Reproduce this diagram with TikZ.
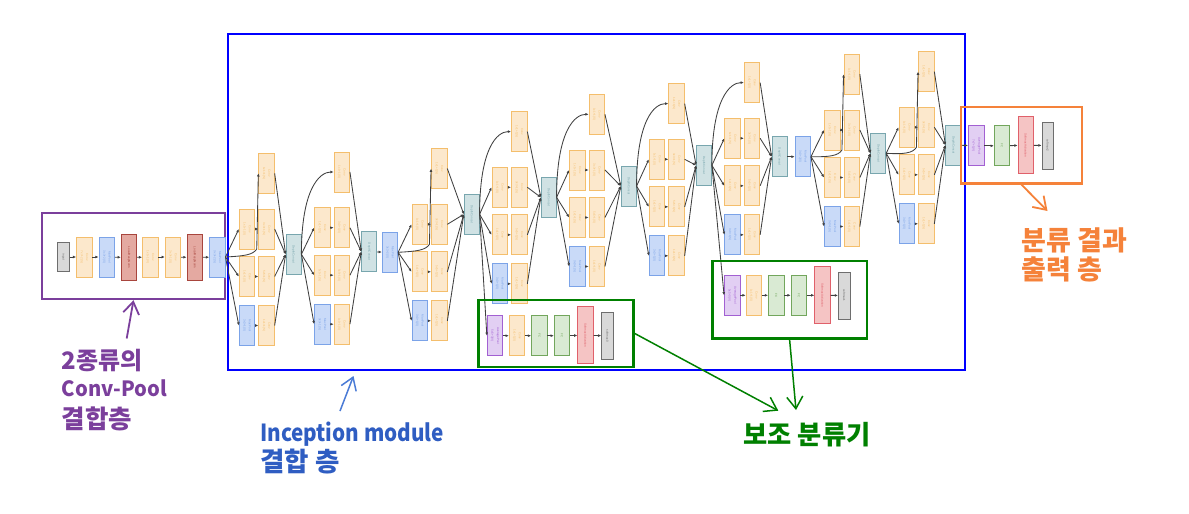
\documentclass[tikz,border=0pt]{standalone}
\usepackage{fontspec}
\usepackage{graphicx}
\newfontfamily\kr{Noto Sans CJK KR}
\newfontfamily\tinyf{Liberation Sans}
\usetikzlibrary{arrows.meta,calc}
\definecolor{convF}{HTML}{FCE8CC}\definecolor{convD}{HTML}{F4BE6C}
\definecolor{poolF}{HTML}{C9DAF8}\definecolor{poolD}{HTML}{7BA3E8}
\definecolor{lrnF}{HTML}{E4A9A1}\definecolor{lrnD}{HTML}{A8453D}
\definecolor{saF}{HTML}{F5C4C4}\definecolor{saD}{HTML}{E0606A}
\definecolor{gF}{HTML}{D9D9D9}\definecolor{gD}{HTML}{6E6E6E}
\definecolor{dcF}{HTML}{D0E2E4}\definecolor{dcD}{HTML}{78A6AE}
\definecolor{fcF}{HTML}{D9EAD3}\definecolor{fcD}{HTML}{72A65C}
\definecolor{avF}{HTML}{E2CFF3}\definecolor{avD}{HTML}{A260D2}
\definecolor{edgeC}{HTML}{404040}
\definecolor{purp}{HTML}{7B3F9C}
\definecolor{bluebox}{HTML}{0000FF}
\definecolor{bluetxt}{HTML}{2F5DC2}
\definecolor{bluearr}{HTML}{4A7BD6}
\definecolor{grn}{HTML}{008000}
\definecolor{orng}{HTML}{F5823A}
\newcommand{\lbl}[2]{\rotatebox{-90}{\shortstack{#1\\#2}}}
\newcommand{\lblone}[1]{\rotatebox{-90}{#1}}
\newcommand{\incmod}[6]{%
 \node[conv] (#1t) at (#2+19.5,#3-55.7) {\lbl{Conv}{1x1+1(S)}};
 \node[conv] (#1a1) at (#2,#3) {\lbl{Conv}{1x1+1(S)}};
 \node[conv] (#1a2) at (#2+19.5,#3) {\lbl{Conv}{3x3+1(S)}};
 \node[conv] (#1b1) at (#2,#3+47.5) {\lbl{Conv}{1x1+1(S)}};
 \node[conv] (#1b2) at (#2+19.5,#3+47.5) {\lbl{Conv}{5x5+1(S)}};
 \node[mpool] (#1c1) at (#2,#3+96.5) {\lbl{MaxPool}{3x3+1(S)}};
 \node[conv] (#1c2) at (#2+19.5,#3+96.5) {\lbl{Conv}{1x1+1(S)}};
 \draw[lnk] (#4.east) -- (#1a1.west);
 \draw[lnk] (#4.east) -- (#1b1.west);
 \draw[lnk] (#4.east) -- (#1c1.west);
 \draw[lnk] (#1a1) -- (#1a2);
 \draw[lnk] (#1b1) -- (#1b2);
 \draw[lnk] (#1c1) -- (#1c2);
 \ifnum#6=0
  \draw[lnk] (#4.east) .. controls ($(#4.east)!0.8!(#4.east|-#1t.west)$) and ($(#1t.west)+(-14,0)$) .. (#1t.west);
 \else
  \draw[lnk] (#4.east) .. controls (#2-3,#3+27) and (#2+6,#3+26) .. (#2+9.75,#3+20) -- (#1t.west);
 \fi
 \draw[lnk] (#1t.east) -- (#5.west);
 \draw[lnk] (#1a2.east) -- (#5.west);
 \draw[lnk] (#1b2.east) -- (#5.west);
 \draw[lnk] (#1c2.east) -- (#5.west);
}
\tikzset{
 blk/.style={draw, line width=0.8pt, minimum width=15.5pt, minimum height=40pt, inner sep=0pt, font=\tinyf\fontsize{3}{3.4}\selectfont},
 conv/.style={blk, fill=convF, draw=convD, text=convD},
 mpool/.style={blk, fill=poolF, draw=poolD, text=poolD},
 lrn/.style={blk, minimum height=46pt, fill=lrnF, draw=lrnD, text=lrnD},
 sact/.style={blk, minimum height=57pt, fill=saF, draw=saD, text=saD},
 smax/.style={blk, minimum width=11.6pt, minimum height=47pt, fill=gF, draw=gD, text=gD},
 inp/.style={blk, minimum width=11.6pt, minimum height=29pt, fill=gF, draw=gD, text=gD},
 dcat/.style={blk, minimum width=15pt, fill=dcF, draw=dcD, text=dcD},
 fcb/.style={blk, fill=fcF, draw=fcD, text=fcD},
 avg/.style={blk, fill=avF, draw=avD, text=avD},
 lnk/.style={draw=edgeC, line width=0.85pt, -{Latex[length=3.2pt,width=2.8pt]}},
 grp/.style={line width=2.4pt, inner sep=0pt},
 ann/.style={line width=1.8pt, -{Straight Barb[length=12pt,width=16pt]}},
 txt/.style={inner sep=0pt, anchor=base west, font=\kr\bfseries},
}
\begin{document}
\begin{tikzpicture}[x=1pt,y=-1pt]
\useasboundingbox[fill=white] (0,0) rectangle (1189,514);
% group boxes
\node[grp, draw=bluebox, minimum width=737pt, minimum height=336pt] (incbox) at (596.5,202) {};
\node[grp, draw=purp, minimum width=183pt, minimum height=86pt] (stembox) at (133.5,256) {};
% stem
\node[inp] (in) at (63.5,257) {\lblone{input}};
\node[conv] (s1) at (84.3,257) {\lbl{Conv}{7x7+2(S)}};
\node[mpool] (s2) at (106.7,257) {\lbl{MaxPool}{3x3+2(S)}};
\node[lrn] (s3) at (129,257.5) {\lblone{LocalRespNorm}};
\node[conv] (s4) at (150.3,257) {\lbl{Conv}{1x1+1(V)}};
\node[conv] (s5) at (173,257) {\lbl{Conv}{3x3+1(S)}};
\node[lrn] (s6) at (194.7,257.5) {\lblone{LocalRespNorm}};
\node[mpool] (s7) at (217.3,257) {\lbl{MaxPool}{3x3+2(S)}};
\draw[lnk] (in) -- (s1);
\draw[lnk] (s1) -- (s2);
\draw[lnk] (s2) -- (s3);
\draw[lnk] (s3) -- (s4);
\draw[lnk] (s4) -- (s5);
\draw[lnk] (s5) -- (s6);
\draw[lnk] (s6) -- (s7);
% concat / pool nodes
\node[dcat] (dc3a) at (293.5,254.3) {\lblone{DepthConcat}};
\node[dcat] (dc3b) at (369.2,251.7) {\lblone{DepthConcat}};
\node[mpool] (mp3) at (390,252.3) {\lbl{MaxPool}{3x3+2(S)}};
\node[dcat] (dc4a) at (471.7,214.3) {\lblone{DepthConcat}};
\node[dcat] (dc4b) at (548.7,197.3) {\lblone{DepthConcat}};
\node[dcat] (dc4c) at (628.7,186) {\lblone{DepthConcat}};
\node[dcat] (dc4d) at (704,165.3) {\lblone{DepthConcat}};
\node[dcat] (dc4e) at (779.5,156.7) {\lblone{DepthConcat}};
\node[mpool] (mp4) at (802.8,156.7) {\lbl{MaxPool}{3x3+2(S)}};
\node[dcat] (dc5a) at (878.3,153.3) {\lblone{DepthConcat}};
\node[dcat] (dc5b) at (953.3,145) {\lblone{DepthConcat}};
\draw[lnk] (dc3b) -- (mp3);
\draw[lnk] (dc4e) -- (mp4);
% inception modules
\incmod{m3a}{247}{229}{s7}{dc3a}{1}
\incmod{m3b}{322.3}{227.7}{dc3a}{dc3b}{0}
\incmod{m4a}{419.7}{224.3}{mp3}{dc4a}{1}
\incmod{m4b}{499.7}{187.3}{dc4a}{dc4b}{0}
\incmod{m4c}{577.3}{170}{dc4b}{dc4c}{0}
\incmod{m4d}{657}{159.3}{dc4c}{dc4d}{0}
\incmod{m4e}{732.5}{138.3}{dc4d}{dc4e}{0}
\incmod{m5a}{832.2}{130}{mp4}{dc5a}{1}
\incmod{m5b}{906.7}{127.3}{dc5a}{dc5b}{1}
% auxiliary classifier 1
\node[avg] (x1) at (495,335.7) {\lbl{AveragePool}{5x5+3(V)}};
\node[conv] (x2) at (517,335.7) {\lbl{Conv}{1x1+1(S)}};
\node[fcb] (x3) at (539.3,335.7) {\lblone{FC}};
\node[fcb] (x4) at (562,335.7) {\lblone{FC}};
\node[sact] (x5) at (585.5,335.3) {\lblone{SoftmaxActivation}};
\node[smax] (x6) at (607.5,335.8) {\lblone{softmax0}};
\draw[lnk] (dc4a.east) -- (x1.west);
\draw[lnk] (x1) -- (x2);
\draw[lnk] (x2) -- (x3);
\draw[lnk] (x3) -- (x4);
\draw[lnk] (x4) -- (x5);
\draw[lnk] (x5) -- (x6);
% auxiliary classifier 2
\node[avg] (y1) at (732.2,295.3) {\lbl{AveragePool}{5x5+3(V)}};
\node[conv] (y2) at (753.8,295.3) {\lbl{Conv}{1x1+1(S)}};
\node[fcb] (y3) at (776.2,295.3) {\lblone{FC}};
\node[fcb] (y4) at (798.8,295.3) {\lblone{FC}};
\node[sact] (y5) at (822.5,295.3) {\lblone{SoftmaxActivation}};
\node[smax] (y6) at (844.2,295.5) {\lblone{softmax1}};
\draw[lnk] (dc4d.east) -- (y1.west);
\draw[lnk] (y1) -- (y2);
\draw[lnk] (y2) -- (y3);
\draw[lnk] (y3) -- (y4);
\draw[lnk] (y4) -- (y5);
\draw[lnk] (y5) -- (y6);
% output
\node[avg] (z1) at (976.2,145.8) {\lbl{AveragePool}{7x7+1(V)}};
\node[fcb] (z2) at (1002,145.8) {\lblone{FC}};
\node[sact] (z3) at (1025.8,145.3) {\lblone{SoftmaxActivation}};
\node[smax] (z4) at (1047.8,145.5) {\lblone{softmax2}};
\draw[lnk] (dc5b) -- (z1);
\draw[lnk] (z1) -- (z2);
\draw[lnk] (z2) -- (z3);
\draw[lnk] (z3) -- (z4);
% highlight boxes
\node[grp, draw=grn, minimum width=155pt, minimum height=66.7pt] (aux1box) at (555.8,333.35) {};
\node[grp, draw=grn, minimum width=154.2pt, minimum height=77.3pt] (aux2box) at (789.6,299.65) {};
\node[grp, draw=orng, minimum width=121.3pt, minimum height=76.6pt] (outbox) at (1021.35,145) {};
% annotation arrows
\coordinate (pa) at (126.7,338.5);
\draw[ann, draw=purp] (pa) -- (stembox.south);
\coordinate (ba0) at (340,411);
\coordinate (ba1) at (353.5,376);
\draw[ann, draw=bluearr, line width=1.5pt] (ba0) -- (ba1);
\coordinate (ga1) at (778.3,410.7);
\coordinate (ga2) at (796,410);
\draw[ann, draw=grn, line width=1.5pt] (aux1box.east) -- (ga1);
\draw[ann, draw=grn, line width=1.5pt] (aux2box.south) -- (ga2);
\coordinate (oa) at (1047.5,211);
\draw[ann, draw=orng] (outbox.south) -- (oa);
% texts
\node[txt, text=purp, font=\kr\bfseries\fontsize{24}{28}\selectfont] (p1) at (61.7,369) {2종류의};
\node[txt, text=purp, font=\kr\bfseries\fontsize{21}{25}\selectfont] (p2) at (61.7,396.7) {\scalebox{0.96}[1]{Conv-Pool}};
\node[txt, text=purp, font=\kr\bfseries\fontsize{25.5}{29}\selectfont] (p3) at (61.7,428) {결합층};
\node[txt, text=bluetxt, font=\kr\bfseries\fontsize{23.5}{27}\selectfont] (b1) at (260,441) {\scalebox{0.88}[1]{Inception module}};
\node[txt, text=bluetxt, font=\kr\bfseries\fontsize{26.5}{30}\selectfont] (b2) at (260,471) {결합 층};
\node[txt, text=grn, font=\kr\bfseries\fontsize{26.3}{30}\selectfont] (g1) at (743.3,444.5) {보조 분류기};
\node[txt, text=orng, font=\kr\bfseries\fontsize{27}{31}\selectfont] (o1) at (1021.7,250.5) {분류 결과};
\node[txt, text=orng, font=\kr\bfseries\fontsize{27}{31}\selectfont] (o2) at (1021.7,279.5) {출력 층};
\end{tikzpicture}
\end{document}
